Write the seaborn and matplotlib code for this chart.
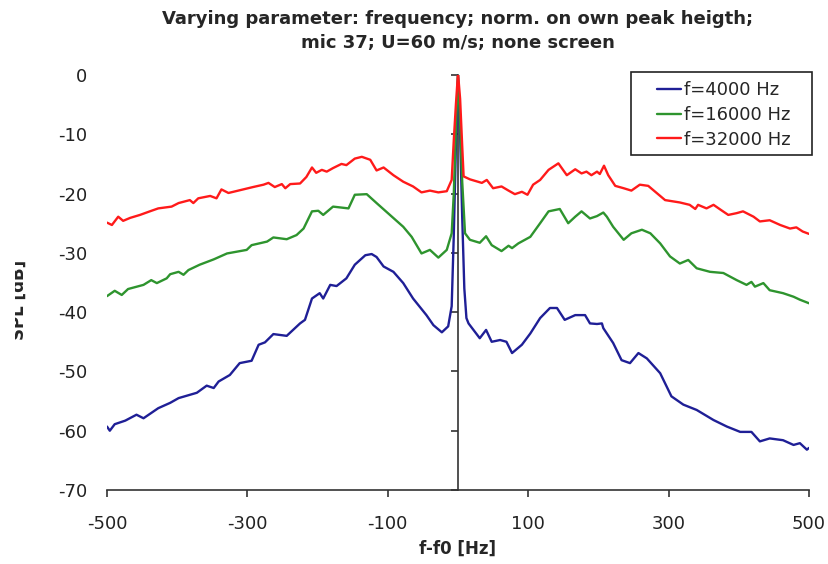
import numpy as np
import pandas as pd
import matplotlib
matplotlib.use("Agg")
import matplotlib.pyplot as plt
import seaborn as sns
from matplotlib.transforms import Bbox
from matplotlib.patches import Rectangle

# ---------------- data ----------------
x_4000 = [-500, -496, -489, -474, -458, -448, -427, -410, -398, -372, -358, -348, -341,
          -325, -311, -294, -284, -275, -263, -244, -225, -218, -208, -197, -192, -182,
          -173, -159, -147, -132, -123, -116, -106, -92, -78, -64, -45, -35, -23, -14,
          -9, -6, -3, 0, 3, 6, 9, 12, 15, 31, 40, 48, 60, 69, 77, 91, 103, 117, 131, 141,
          152, 167, 181, 188, 198, 205, 207, 221, 233, 245, 257, 269, 288, 304, 321, 340,
          364, 383, 402, 418, 430, 444, 463, 478, 487, 497, 500]
y_4000 = [-59.3, -60.0, -58.9, -58.3, -57.3, -57.9, -56.2, -55.3, -54.5, -53.6, -52.4, -52.8,
          -51.7, -50.6, -48.6, -48.2, -45.5, -45.1, -43.7, -44.0, -41.9, -41.3, -37.7, -36.8,
          -37.7, -35.4, -35.6, -34.3, -32.0, -30.4, -30.2, -30.7, -32.3, -33.2, -35.1, -37.7,
          -40.5, -42.2, -43.4, -42.4, -39.0, -27.0, -12.0, 0.0, -10.0, -24.0, -36.0, -41.0,
          -41.9, -44.4, -43.0, -45.0, -44.7, -45.0, -46.9, -45.5, -43.6, -41.0, -39.3, -39.3,
          -41.3, -40.5, -40.5, -41.9, -42.0, -41.9, -42.7, -45.2, -48.1, -48.6, -46.9, -47.8,
          -50.3, -54.2, -55.6, -56.5, -58.2, -59.3, -60.2, -60.2, -61.8, -61.3, -61.6, -62.4,
          -62.1, -63.2, -62.9]

x_16000 = [-500, -489, -479, -470, -448, -437, -429, -415, -410, -398, -391, -384, -368,
           -348, -329, -301, -294, -272, -263, -244, -230, -220, -208, -199, -192, -178,
           -156, -147, -130, -116, -97, -78, -66, -52, -40, -28, -16, -9, -6, -3, 0, 3, 6,
           10, 17, 31, 40, 48, 62, 72, 77, 86, 103, 117, 129, 145, 157, 167, 176, 188, 198,
           207, 212, 221, 236, 247, 262, 274, 288, 302, 316, 328, 340, 359, 378, 397, 411,
           418, 423, 435, 444, 463, 478, 487, 500]
y_16000 = [-37.3, -36.4, -37.1, -36.1, -35.4, -34.6, -35.1, -34.3, -33.6, -33.2, -33.7, -32.9,
           -32.0, -31.1, -30.1, -29.5, -28.7, -28.1, -27.4, -27.7, -27.0, -25.9, -23.0, -22.9,
           -23.6, -22.2, -22.5, -20.2, -20.1, -21.6, -23.6, -25.6, -27.3, -30.1, -29.5, -30.8,
           -29.5, -26.7, -20.0, -9.0, 0.0, -8.0, -18.0, -26.7, -27.8, -28.3, -27.2, -28.7,
           -29.7, -28.8, -29.2, -28.4, -27.3, -25.0, -23.0, -22.6, -25.0, -23.9, -23.0, -24.2,
           -23.8, -23.2, -23.9, -25.6, -27.8, -26.7, -26.1, -26.7, -28.4, -30.6, -31.8, -31.2,
           -32.6, -33.2, -33.4, -34.6, -35.4, -34.9, -35.7, -35.1, -36.3, -36.8, -37.4, -37.9,
           -38.5]

x_32000 = [-500, -493, -484, -477, -467, -453, -439, -427, -408, -398, -382, -377, -370,
           -353, -344, -337, -327, -306, -292, -277, -270, -261, -251, -246, -239, -225,
           -216, -208, -202, -194, -187, -178, -166, -159, -147, -137, -125, -116, -106,
           -92, -78, -64, -52, -40, -28, -16, -9, -6, -3, 0, 3, 6, 8, 17, 34, 41, 50, 62,
           72, 81, 91, 99, 107, 117, 129, 143, 155, 167, 176, 183, 190, 198, 202, 208, 214,
           224, 236, 247, 259, 271, 283, 295, 316, 330, 338, 342, 354, 364, 375, 385, 397,
           406, 421, 430, 444, 459, 473, 482, 491, 500]
y_32000 = [-24.9, -25.3, -23.9, -24.6, -24.1, -23.6, -23.0, -22.5, -22.2, -21.6, -21.1, -21.6,
           -20.8, -20.4, -20.8, -19.3, -19.9, -19.3, -18.9, -18.5, -18.2, -18.9, -18.4, -19.1,
           -18.4, -18.3, -17.2, -15.6, -16.5, -16.0, -16.3, -15.7, -15.0, -15.2, -14.1, -13.8,
           -14.3, -16.1, -15.6, -16.9, -18.0, -18.8, -19.8, -19.5, -19.8, -19.6, -17.7, -11.0,
           -5.0, 0.3, -4.0, -12.0, -17.1, -17.6, -18.2, -17.7, -19.1, -18.8, -19.5, -20.1,
           -19.7, -20.2, -18.5, -17.7, -16.0, -14.9, -16.9, -15.9, -16.6, -16.3, -16.9, -16.3,
           -16.7, -15.3, -16.9, -18.7, -19.1, -19.5, -18.5, -18.7, -19.9, -21.1, -21.5, -21.9,
           -22.6, -21.9, -22.5, -21.9, -22.8, -23.6, -23.3, -23.0, -23.9, -24.7, -24.5, -25.3,
           -25.9, -25.7, -26.4, -26.8]

series_names = ["f=4000 Hz", "f=16000 Hz", "f=32000 Hz"]
x_ticks = [-500, -300, -100, 100, 300, 500]
y_ticks = [0, -10, -20, -30, -40, -50, -60, -70]
title_text = ("Varying parameter: frequency; norm. on own peak heigth;\n"
              "mic 37; U=60 m/s; none screen")
x_label = "f-f0 [Hz]"
y_label = "SPL [dB]"
colors = ["#1f1f96", "#2e942e", "#ff1a1a"]

df = pd.concat([
    pd.DataFrame({"x": x_4000, "y": y_4000, "series": series_names[0]}),
    pd.DataFrame({"x": x_16000, "y": y_16000, "series": series_names[1]}),
    pd.DataFrame({"x": x_32000, "y": y_32000, "series": series_names[2]}),
], ignore_index=True)

# ---------------- figure ----------------
sns.set_style("white")
plt.rcParams["font.family"] = ["DejaVu Sans"]

W, H = 829, 564
fig = plt.figure(figsize=(W / 100, H / 100), dpi=100)
ax = fig.add_axes([107 / W, 1 - 490 / H, (809 - 107) / W, (490 - 75) / H])

sns.lineplot(data=df, x="x", y="y", hue="series", palette=colors,
             hue_order=series_names, estimator=None, sort=False,
             linewidth=1.7, ax=ax, legend=True)

ax.set_xlim(-500, 500)
ax.set_ylim(-70, 0)
ax.set_xticks(x_ticks)
ax.set_xticklabels([str(v) for v in x_ticks])
ax.set_yticks(y_ticks)
ax.set_yticklabels([str(v) for v in y_ticks])

for s in ["top", "right", "left"]:
    ax.spines[s].set_visible(False)
ax.spines["bottom"].set_color("#333333")
ax.spines["bottom"].set_linewidth(1.2)

ax.tick_params(axis="x", direction="out", length=5, width=1.2, color="#333333",
               labelsize=13, pad=13, labelcolor="#222222", bottom=True)
ax.tick_params(axis="y", length=0, labelsize=13, pad=14, labelcolor="#222222", left=True)

# vertical axis line at x=0 with ticks
sec = ax.secondary_yaxis(0.5)
sec.set_yticks(y_ticks)
sec.tick_params(axis="y", direction="out", length=5, width=1.2, color="#333333",
                labelleft=False, labelright=False, left=True, right=False)
for s in sec.spines.values():
    s.set_visible(False)
sec.spines["left"].set_visible(True)
sec.spines["left"].set_color("#333333")
sec.spines["left"].set_linewidth(1.2)

ax.set_xlabel("")
ax.set_ylabel("")

fig.text(458 / W, 1 - 549 / H, x_label, ha="center", va="center",
         fontsize=12, fontweight="bold")
yl = fig.text(19 / W, 1 - 300 / H, y_label, ha="center", va="center",
              rotation=90, fontsize=12, fontweight="bold")
yl.set_clip_box(Bbox.from_extents(15, 0, W, H))
yl.set_clip_on(True)

fig.text(458 / W, 1 - 31 / H, title_text, ha="center", va="center",
         fontsize=13, fontweight="bold", linespacing=1.5)

# legend: frame drawn separately to match the wide padding of the original
leg = ax.legend(loc="upper left", bbox_to_anchor=(657 / W, 1 - 81 / H),
                bbox_transform=fig.transFigure, borderaxespad=0, borderpad=0,
                frameon=False, fontsize=13, handlelength=1.35,
                handletextpad=0.15, labelspacing=0.38, title=None)
for line in leg.get_lines():
    line.set_linewidth(1.7)
fig.patches.append(Rectangle((631 / W, 1 - 155 / H), (812 - 631) / W, (155 - 72) / H,
                             transform=fig.transFigure, fill=False,
                             edgecolor="#222222", linewidth=1.2, zorder=5))

fig.savefig("out.png", dpi=100)
